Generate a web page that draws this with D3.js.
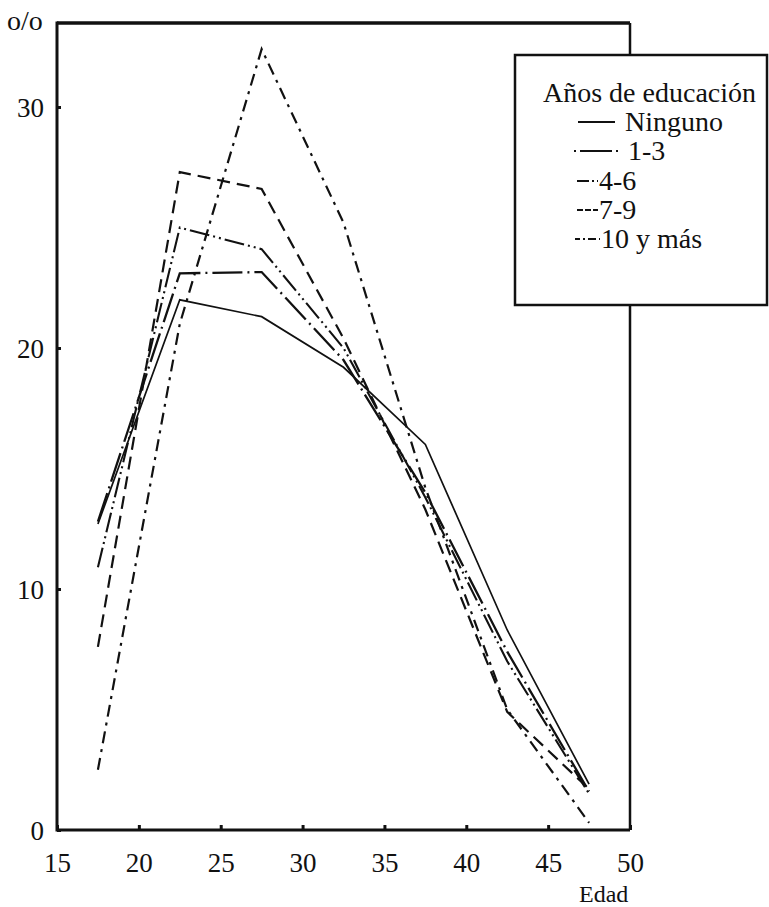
<!DOCTYPE html>
<html><head><meta charset="utf-8">
<script src="https://cdn.jsdelivr.net/npm/d3@7"></script>
<style>
body{margin:0;background:#fff;}
</style></head>
<body>
<svg id="c" width="769" height="907"></svg>
<script>
const ages = [17.5, 22.5, 27.5, 32.5, 37.5, 42.5, 47.5];
const ninguno = [12.7, 22.0, 21.3, 19.2, 16.0, 8.3, 1.9];
const uno3    = [12.8, 23.1, 23.15, 19.5, 14.0, 7.4, 1.6];
const cuatro6 = [10.9, 25.0, 24.1, 20.0, 13.8, 7.0, 1.5];
const siete9  = [7.6, 27.3, 26.6, 20.4, 13.3, 4.9, 1.7];
const diezMas = [2.5, 21.0, 32.4, 25.2, 14.2, 5.0, 0.3];
const seriesNames = ["Ninguno", "1-3", "4-6", "7-9", "10 y más"];
const xTicks = [15, 20, 25, 30, 35, 40, 45, 50];
const yTicks = [0, 10, 20, 30];
const legendTitle = "Años de educación";
const yLabel = "o/o";
const xLabel = "Edad";

const FONT = "Liberation Serif";
const seriesData = [ninguno, uno3, cuatro6, siete9, diezMas];
const styles = [
  {dash: null, w: 1.7},
  {dash: "30 5 2 5", w: 2.3},
  {dash: "20 4 2 4 2 4", w: 2.1},
  {dash: "13 7", w: 2.2},
  {dash: "12 6 3 6", w: 2.2}
];

const svg = d3.select("#c");
const L = 57, R = 630, T = 23, B = 830;
const x = d3.scaleLinear().domain([15, 50]).range([L, R]);
const y = d3.scaleLinear().domain([0, 30]).range([B, 107]);

// axes
const gy = svg.append("g").attr("transform", `translate(${L},0)`)
  .call(d3.axisLeft(y).tickValues(yTicks).tickSize(-4).tickPadding(13).tickFormat(d3.format("d")));
gy.attr("font-family", FONT);
gy.select(".domain").remove();
gy.selectAll("line").attr("stroke", "#111").attr("stroke-width", 3);
gy.selectAll("text").attr("font-family", FONT).attr("font-size", 27).attr("dy", "0.34em").attr("fill", "#111");

const gx = svg.append("g").attr("transform", `translate(0,${B})`)
  .call(d3.axisBottom(x).tickValues(xTicks).tickSize(-5).tickPadding(23).tickFormat(d3.format("d")));
gx.attr("font-family", FONT);
gx.select(".domain").remove();
gx.selectAll("line").attr("stroke", "#111").attr("stroke-width", 3);
gx.selectAll("text").attr("font-family", FONT).attr("font-size", 27).attr("fill", "#111");

// frame
svg.append("line").attr("x1", L).attr("x2", L).attr("y1", T - 1.5).attr("y2", B + 1.5).attr("stroke", "#111").attr("stroke-width", 3);
svg.append("line").attr("x1", L).attr("x2", R).attr("y1", B).attr("y2", B).attr("stroke", "#111").attr("stroke-width", 3);
svg.append("line").attr("x1", L).attr("x2", R).attr("y1", T).attr("y2", T).attr("stroke", "#111").attr("stroke-width", 3.5);
svg.append("line").attr("x1", R).attr("x2", R).attr("y1", T).attr("y2", B).attr("stroke", "#111").attr("stroke-width", 2.5);

// lines
const line = d3.line().x((d, i) => x(ages[i])).y(d => y(d));
seriesData.forEach((s, k) => {
  svg.append("path").datum(s).attr("d", line)
    .attr("fill", "none").attr("stroke", "#111")
    .attr("stroke-width", styles[k].w)
    .attr("stroke-dasharray", styles[k].dash)
    .attr("stroke-linejoin", "miter");
});

// labels
svg.append("text").attr("x", 7).attr("y", 30).attr("font-family", FONT).attr("font-size", 28).attr("fill", "#111").text(yLabel);
svg.append("text").attr("x", 579).attr("y", 902).attr("font-family", FONT).attr("font-size", 24).attr("fill", "#111").text(xLabel);

// legend
const lg = svg.append("g");
lg.append("rect").attr("x", 515).attr("y", 55).attr("width", 252).attr("height", 250)
  .attr("fill", "#fff").attr("stroke", "#111").attr("stroke-width", 2.5);
lg.append("text").attr("x", 543).attr("y", 102).attr("font-family", FONT).attr("font-size", 28).attr("fill", "#111").text(legendTitle);
const legItems = [
  {x1: 578, x2: 615, tx: 625, by: 131},
  {x1: 574, x2: 618, tx: 628, by: 160},
  {x1: 577, x2: 598, tx: 599, by: 190},
  {x1: 577, x2: 598, tx: 599, by: 219},
  {x1: 575, x2: 600, tx: 601, by: 248}
];
const legDash = [null, "2 4 32 4 2", "12 3 2 3 2 3", "6 2 6 2 6", "5 3 2 3 8 3 2"];
seriesNames.forEach((n, k) => {
  const it = legItems[k];
  lg.append("line").attr("x1", it.x1).attr("x2", it.x2).attr("y1", it.by - 9).attr("y2", it.by - 9)
    .attr("stroke", "#111").attr("stroke-width", 2).attr("stroke-dasharray", legDash[k]);
  lg.append("text").attr("x", it.tx).attr("y", it.by).attr("font-family", FONT).attr("font-size", 28).attr("fill", "#111").text(n);
});
</script>
</body></html>
